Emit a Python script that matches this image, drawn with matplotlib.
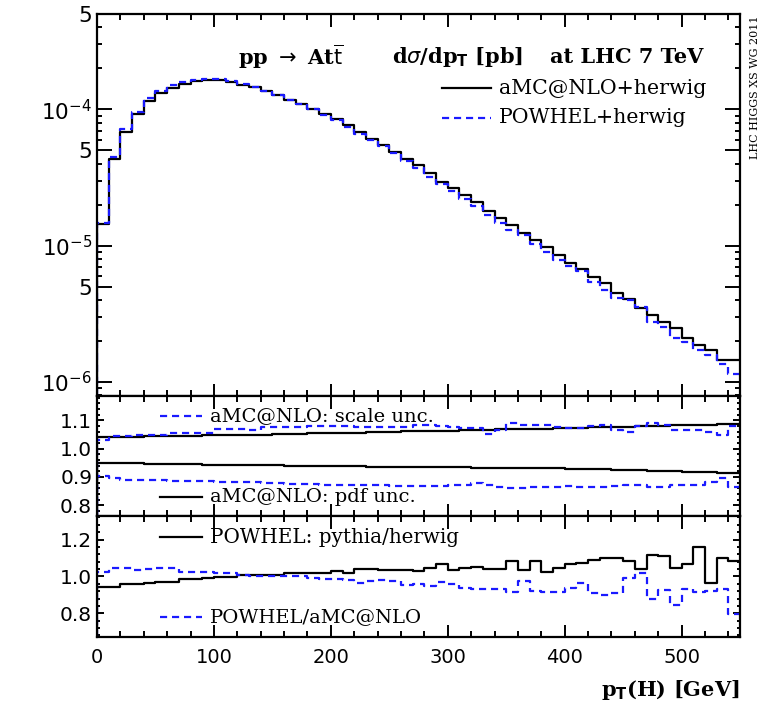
import numpy as np
import matplotlib
matplotlib.use("Agg")
import matplotlib.pyplot as plt
from matplotlib.ticker import FixedLocator, MultipleLocator, FuncFormatter

# pT(H) bins, 10 GeV wide
edges = np.arange(0, 560, 10)

# d sigma / d pT [pb], top panel
amc_herwig = [1.44e-5, 4.29e-5, 6.82e-5, 9.29e-5, 1.16e-4, 1.315e-4, 1.44e-4, 1.54e-4, 1.61e-4, 1.63e-4,
              1.63e-4, 1.585e-4, 1.52e-4, 1.455e-4, 1.36e-4, 1.265e-4, 1.18e-4, 1.09e-4, 1.01e-4, 9.29e-5,
              8.45e-5, 7.64e-5, 6.82e-5, 6.11e-5, 5.46e-5, 4.88e-5, 4.36e-5, 3.89e-5, 3.39e-5, 2.94e-5,
              2.63e-5, 2.35e-5, 2.10e-5, 1.79e-5, 1.585e-5, 1.42e-5, 1.23e-5, 1.11e-5, 9.84e-6, 8.55e-6,
              7.52e-6, 6.71e-6, 5.93e-6, 5.31e-6, 4.53e-6, 4.06e-6, 3.48e-6, 3.11e-6, 2.74e-6, 2.49e-6,
              2.10e-6, 1.88e-6, 1.73e-6, 1.46e-6, 1.45e-6]
powhel_herwig = [1.47e-5, 4.48e-5, 7.13e-5, 9.59e-5, 1.21e-4, 1.37e-4, 1.51e-4, 1.58e-4, 1.65e-4, 1.67e-4,
                 1.66e-4, 1.62e-4, 1.54e-4, 1.46e-4, 1.36e-4, 1.27e-4, 1.18e-4, 1.09e-4, 1.0e-4, 9.14e-5,
                 8.32e-5, 7.48e-5, 6.58e-5, 5.96e-5, 5.35e-5, 4.75e-5, 4.15e-5, 3.73e-5, 3.21e-5, 2.86e-5,
                 2.52e-5, 2.20e-5, 1.95e-5, 1.67e-5, 1.47e-5, 1.30e-5, 1.205e-5, 1.025e-5, 8.99e-6, 7.82e-6,
                 7.05e-6, 6.47e-6, 5.40e-6, 4.76e-6, 4.12e-6, 4.03e-6, 3.54e-6, 2.74e-6, 2.54e-6, 2.10e-6,
                 1.96e-6, 1.72e-6, 1.59e-6, 1.36e-6, 1.15e-6]

# middle panel: aMC@NLO uncertainty bands (ratio to central)
scale_up = [1.030, 1.043, 1.043, 1.050, 1.050, 1.050, 1.056, 1.056, 1.056, 1.056,
            1.068, 1.068, 1.068, 1.065, 1.075, 1.075, 1.075, 1.075, 1.081, 1.081,
            1.081, 1.081, 1.077, 1.077, 1.077, 1.077, 1.077, 1.085, 1.083, 1.080,
            1.075, 1.074, 1.072, 1.053, 1.065, 1.090, 1.085, 1.085, 1.083, 1.075,
            1.073, 1.073, 1.080, 1.083, 1.065, 1.060, 1.080, 1.090, 1.085, 1.065,
            1.065, 1.065, 1.058, 1.050, 1.080]
scale_dn = [0.905, 0.895, 0.890, 0.890, 0.890, 0.889, 0.887, 0.886, 0.886, 0.885,
            0.883, 0.882, 0.881, 0.881, 0.880, 0.878, 0.876, 0.876, 0.874, 0.872,
            0.870, 0.871, 0.873, 0.871, 0.870, 0.868, 0.868, 0.867, 0.867, 0.868,
            0.870, 0.872, 0.880, 0.870, 0.864, 0.862, 0.862, 0.863, 0.866, 0.866,
            0.867, 0.866, 0.866, 0.863, 0.868, 0.870, 0.871, 0.863, 0.863, 0.873,
            0.871, 0.870, 0.884, 0.895, 0.865]
pdf_up = [1.040, 1.041, 1.042, 1.042, 1.043, 1.044, 1.044, 1.045, 1.046, 1.047,
          1.047, 1.048, 1.049, 1.050, 1.050, 1.051, 1.052, 1.053, 1.054, 1.054,
          1.055, 1.056, 1.057, 1.058, 1.059, 1.060, 1.061, 1.062, 1.063, 1.064,
          1.064, 1.065, 1.066, 1.067, 1.068, 1.069, 1.070, 1.070, 1.071, 1.072,
          1.073, 1.074, 1.075, 1.076, 1.077, 1.078, 1.079, 1.080, 1.081, 1.082,
          1.083, 1.084, 1.085, 1.086, 1.088]
pdf_dn = [0.949, 0.949, 0.948, 0.948, 0.947, 0.947, 0.946, 0.945, 0.945, 0.944,
          0.943, 0.943, 0.942, 0.942, 0.941, 0.941, 0.940, 0.940, 0.939, 0.939,
          0.939, 0.938, 0.938, 0.937, 0.937, 0.937, 0.937, 0.936, 0.936, 0.935,
          0.934, 0.934, 0.933, 0.933, 0.932, 0.932, 0.931, 0.931, 0.930, 0.930,
          0.929, 0.928, 0.928, 0.927, 0.926, 0.924, 0.923, 0.922, 0.921, 0.920,
          0.919, 0.918, 0.917, 0.915, 0.914]

# bottom panel ratios
pythia_herwig = [0.944, 0.944, 0.960, 0.960, 0.963, 0.972, 0.972, 0.985, 0.985, 0.990,
                 0.995, 0.995, 1.006, 1.006, 1.010, 1.010, 1.017, 1.017, 1.020, 1.020,
                 1.030, 1.020, 1.040, 1.040, 1.037, 1.033, 1.033, 1.030, 1.043, 1.069,
                 1.037, 1.043, 1.052, 1.039, 1.039, 1.083, 1.033, 1.083, 1.024, 1.043,
                 1.069, 1.074, 1.089, 1.098, 1.098, 1.083, 1.041, 1.117, 1.109, 1.043,
                 1.069, 1.158, 0.963, 1.098, 1.083]
powhel_amc = [1.022, 1.044, 1.044, 1.033, 1.040, 1.044, 1.047, 1.026, 1.026, 1.024,
              1.020, 1.020, 1.010, 1.004, 1.000, 1.004, 1.000, 1.000, 0.990, 0.985,
              0.985, 0.980, 0.965, 0.976, 0.980, 0.976, 0.952, 0.960, 0.948, 0.972,
              0.960, 0.937, 0.930, 0.930, 0.930, 0.918, 0.977, 0.920, 0.915, 0.915,
              0.937, 0.963, 0.910, 0.897, 0.910, 0.993, 1.017, 0.880, 0.927, 0.843,
              0.933, 0.915, 0.920, 0.930, 0.796]

BLUE = "#1a1aff"
DASH = (0, (3.2, 2.2))
SERIF = "DejaVu Serif"


def hist_line(ax, vals, base, **kw):
    xs = np.repeat(edges, 2)[:-1]
    ys = np.r_[base, np.repeat(vals, 2)]
    ax.plot(xs, ys, **kw)


def style_axis(ax, ymin_len=(5, 2.2)):
    ax.set_xlim(0, 550)
    ax.xaxis.set_major_locator(MultipleLocator(100))
    ax.xaxis.set_minor_locator(MultipleLocator(20))
    ax.tick_params(which="both", direction="in", top=True, right=True, width=1.4, labelsize=14.5)
    ax.tick_params(axis="x", which="major", length=9)
    ax.tick_params(axis="x", which="minor", length=4.5)
    ax.tick_params(axis="y", which="major", length=ymin_len[0])
    ax.tick_params(axis="y", which="minor", length=ymin_len[1])
    for s in ax.spines.values():
        s.set_linewidth(1.6)


def legend_entry(ax, y, label, size, **kw):
    ax.plot([0.098, 0.163], [y, y], transform=ax.transAxes, lw=1.6, **kw)
    ax.text(0.176, y, label, transform=ax.transAxes, ha="left", va="center",
            fontsize=size, family=SERIF)


fig = plt.figure(figsize=(7.61, 7.05), dpi=100)
L, W = 0.1275, 0.845
ax1 = fig.add_axes([L, 0.4383, W, 0.5417])
ax2 = fig.add_axes([L, 0.268, W, 0.1703], sharex=ax1)
ax3 = fig.add_axes([L, 0.0965, W, 0.1715], sharex=ax1)

# top panel
ylo = 7.9e-7
ax1.set_yscale("log")
ax1.set_ylim(ylo, 5.0e-4)
hist_line(ax1, amc_herwig, ylo, color="black", lw=1.6)
hist_line(ax1, powhel_herwig, ylo, color=BLUE, lw=1.6, ls=DASH)
style_axis(ax1, ymin_len=(11, 3.6))
ax1.yaxis.set_major_locator(FixedLocator([1e-6, 5e-6, 1e-5, 5e-5, 1e-4, 5e-4]))
minor = [m * 10.0 ** e for e in (-7, -6, -5, -4) for m in (2, 3, 4, 6, 7, 8, 9)]
ax1.yaxis.set_minor_locator(FixedLocator(minor))


def log_fmt(v, pos):
    e = int(np.floor(np.log10(v) + 1e-9))
    m = v / 10.0 ** e
    if abs(m - 1) < 1e-6:
        return r"$\mathregular{10^{%d}}$" % e
    return "%d" % round(m)


ax1.yaxis.set_major_formatter(FuncFormatter(log_fmt))
ax1.yaxis.set_minor_formatter(FuncFormatter(lambda v, p: ""))
ax1.tick_params(axis="y", labelsize=15.5)
plt.setp(ax1.get_xticklabels(), visible=False)

title_kw = dict(transform=ax1.transAxes, ha="left", va="center", fontsize=15, family=SERIF, weight="bold")
ax1.text(0.219, 0.887, r"pp $\rightarrow$ At$\overline{\mathrm{t}}$", **title_kw)
ax1.text(0.459, 0.887, r"d$\sigma$/dp$_\mathbf{T}$ [pb]", **title_kw)
ax1.text(0.704, 0.887, "at LHC 7 TeV", **title_kw)
ax1.plot([0.5365, 0.6128], [0.806, 0.806], transform=ax1.transAxes, color="black", lw=1.6)
ax1.text(0.625, 0.806, "aMC@NLO+herwig", transform=ax1.transAxes, ha="left", va="center",
         fontsize=14.8, family=SERIF)
ax1.plot([0.5365, 0.6128], [0.728, 0.728], transform=ax1.transAxes, color=BLUE, lw=1.6, ls=DASH)
ax1.text(0.625, 0.728, "POWHEL+herwig", transform=ax1.transAxes, ha="left", va="center",
         fontsize=14.8, family=SERIF)

# middle panel
m_lo, m_hi = 0.762, 1.186
ax2.set_ylim(m_lo, m_hi)
hist_line(ax2, pdf_up, m_lo, color="black", lw=1.6)
hist_line(ax2, pdf_dn, m_lo, color="black", lw=1.6)
hist_line(ax2, scale_up, m_lo, color=BLUE, lw=1.6, ls=DASH)
hist_line(ax2, scale_dn, m_lo, color=BLUE, lw=1.6, ls=DASH)
style_axis(ax2)
ax2.yaxis.set_major_locator(MultipleLocator(0.1))
ax2.yaxis.set_minor_locator(MultipleLocator(0.02))
ax2.yaxis.set_major_formatter(FuncFormatter(lambda v, p: "%.1f" % v))
plt.setp(ax2.get_xticklabels(), visible=False)
legend_entry(ax2, 0.833, "aMC@NLO: scale unc.", 14, color=BLUE, ls=DASH)
legend_entry(ax2, 0.158, "aMC@NLO: pdf unc.", 14, color="black")

# bottom panel
b_lo, b_hi = 0.672, 1.327
ax3.set_ylim(b_lo, b_hi)
hist_line(ax3, pythia_herwig, b_lo, color="black", lw=1.6)
hist_line(ax3, powhel_amc, b_lo, color=BLUE, lw=1.6, ls=DASH)
style_axis(ax3)
ax3.yaxis.set_major_locator(MultipleLocator(0.2))
ax3.yaxis.set_minor_locator(MultipleLocator(0.04))
ax3.yaxis.set_major_formatter(FuncFormatter(lambda v, p: "%.1f" % v))
ax3.tick_params(axis="x", pad=8, labelsize=14)
legend_entry(ax3, 0.826, "POWHEL: pythia/herwig", 14.3, color="black")
legend_entry(ax3, 0.165, "POWHEL/aMC@NLO", 14, color=BLUE, ls=DASH)

fig.text(0.9724, 1 - 690 / 705, r"p$_\mathbf{T}$(H) [GeV]", ha="right", va="center",
         fontsize=15, family=SERIF, weight="bold")
fig.text(0.992, 1 - 87 / 705, "LHC HIGGS XS WG 2011", rotation=90, ha="center", va="center",
         fontsize=8, family=SERIF)

fig.savefig("out.png", dpi=100)
